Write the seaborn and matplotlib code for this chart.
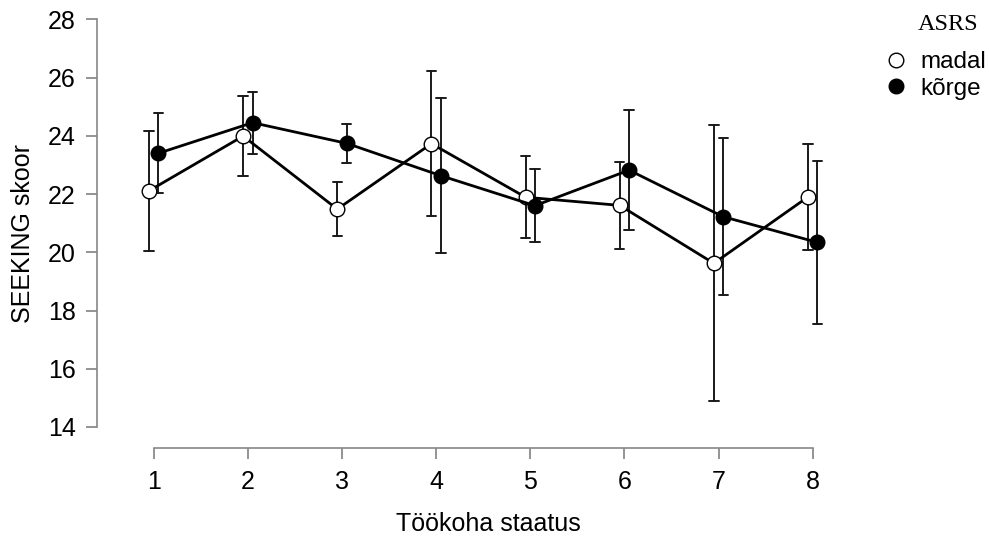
import numpy as np
import pandas as pd
import matplotlib
matplotlib.use("Agg")
import matplotlib.pyplot as plt
from matplotlib.lines import Line2D
import seaborn as sns

# ---- data ----
statuses = ["1", "2", "3", "4", "5", "6", "7", "8"]
groups = ["madal", "kõrge"]
madal_mean = [22.11, 23.99, 21.48, 23.73, 21.89, 21.61, 19.62, 21.90]
madal_half = [2.06, 1.36, 0.92, 2.50, 1.40, 1.50, 4.74, 1.82]
korge_mean = [23.40, 24.45, 23.74, 22.63, 21.60, 22.82, 21.22, 20.34]
korge_half = [1.38, 1.06, 0.68, 2.67, 1.26, 2.07, 2.70, 2.80]
y_ticks = [14, 16, 18, 20, 22, 24, 26, 28]

rows = []
for g, means, halves in [("madal", madal_mean, madal_half), ("kõrge", korge_mean, korge_half)]:
    for s, m, h in zip(statuses, means, halves):
        rows.append({"status": s, "ASRS": g, "score": m - h})
        rows.append({"status": s, "ASRS": g, "score": m + h})
df = pd.DataFrame(rows)

sns.set_theme(style="white")
plt.rcParams["font.family"] = ["Liberation Sans", "DejaVu Sans"]
plt.rcParams["text.color"] = "black"
plt.rcParams["axes.labelcolor"] = "black"

fig = plt.figure(figsize=(9.89, 5.37), dpi=100)
W, H = 989, 537
x_left_px, x_right_px = 96.7, 880.0
y_bot_px, y_top_px = 447.7, 19.3
ax = fig.add_axes([x_left_px / W, (H - y_bot_px) / H,
                   (x_right_px - x_left_px) / W, (y_bot_px - y_top_px) / H])

sns.pointplot(data=df, x="status", y="score", hue="ASRS", order=statuses,
              hue_order=groups, palette=["black", "black"], estimator="mean",
              errorbar=lambda v: (v.min(), v.max()), dodge=0.1, capsize=0.1,
              markers=["o", "o"], linestyles=["-", "-"], markersize=10.5,
              linewidth=2.0, err_kws={"linewidth": 1.4, "color": "#1a1a1a"},
              legend=False, ax=ax)

main_lines = [ln for ln in ax.lines if ln.get_marker() == "o"]
if main_lines:
    main_lines[0].set_markerfacecolor("white")
    main_lines[0].set_markeredgecolor("black")
    for ln in main_lines:
        ln.set_zorder(5)
        ln.set_markeredgewidth(1.0)

pxu = 94.14
ax.set_xlim(-(153.7 - x_left_px) / pxu, (x_right_px - 153.7) / pxu)
ax.set_ylim(28 - (y_bot_px - y_top_px) / 29.12, 28)
ax.set_yticks(y_ticks)
ax.set_yticklabels([str(t) for t in y_ticks])

for sp in ["top", "right"]:
    ax.spines[sp].set_visible(False)
for sp in ["left", "bottom"]:
    ax.spines[sp].set_color("#888888")
    ax.spines[sp].set_linewidth(1.2)
ax.spines["left"].set_bounds(14, 28)
ax.spines["bottom"].set_bounds(0, 7)
ax.tick_params(axis="both", which="both", direction="out", length=8,
               width=1.1, color="#777777", labelsize=18, labelcolor="black",
               left=True, bottom=True)
ax.tick_params(axis="x", pad=8)
ax.tick_params(axis="y", pad=7)

ax.set_xlabel("Töökoha staatus", fontsize=18, labelpad=13, color="black")
ax.set_ylabel("SEEKING skoor", fontsize=18, labelpad=9, color="black")

handles = [
    Line2D([], [], marker="o", linestyle="", markersize=10.5,
           markerfacecolor="white", markeredgecolor="black"),
    Line2D([], [], marker="o", linestyle="", markersize=10.5,
           markerfacecolor="black", markeredgecolor="black"),
]
fig.text(948 / W, 1 - 25 / H, "ASRS", ha="center", va="center",
         fontsize=17.5, family=["Liberation Serif", "DejaVu Serif"], color="black")
leg = fig.legend(handles, groups, loc="upper left",
                 bbox_to_anchor=(879 / W, 1 - 44 / H), frameon=False,
                 fontsize=17.5, handlelength=0.8, handletextpad=0.6,
                 labelspacing=0.18, borderaxespad=0, borderpad=0.3,
                 labelcolor="black")

fig.savefig("out.png", dpi=100)
